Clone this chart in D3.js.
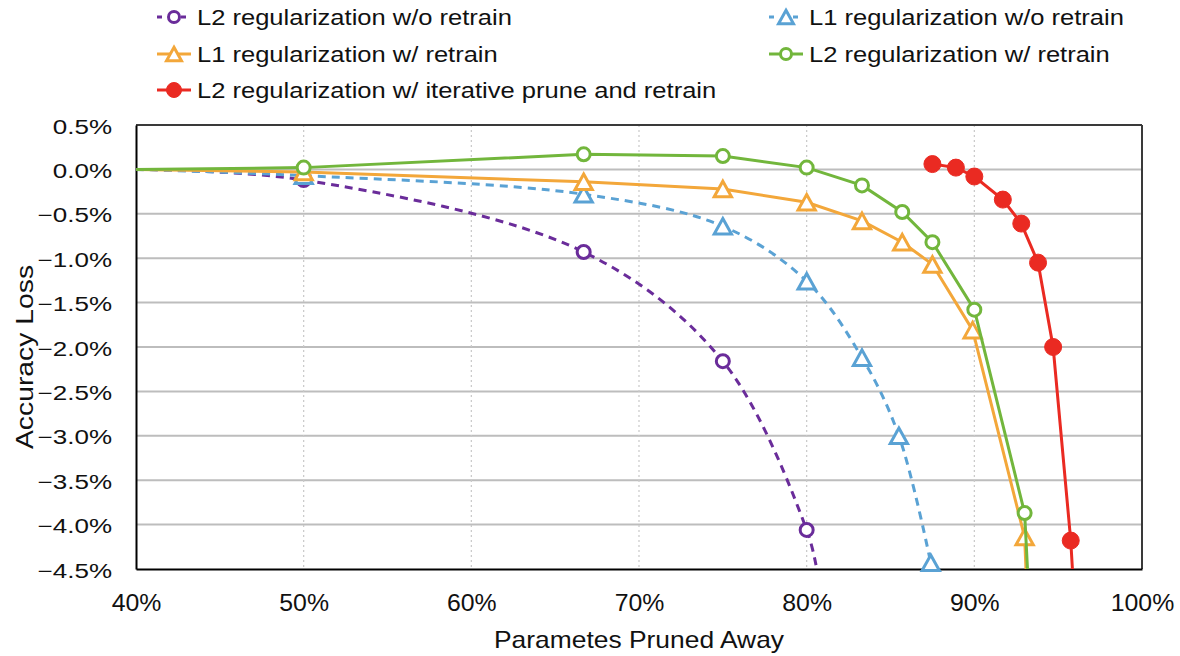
<!DOCTYPE html>
<html>
<head>
<meta charset="utf-8">
<script src="https://cdn.jsdelivr.net/npm/d3@7"></script>
<style>
  html, body { margin: 0; padding: 0; background: #fff; }
  svg { display: block; font-family: "Liberation Sans", Arial, Helvetica, sans-serif; }
</style>
</head>
<body>
<div id="chart"></div>
<script>
// tick values
const xTicks = [40, 50, 60, 70, 80, 90, 100];
const yTicks = [0.5, 0, -0.5, -1, -1.5, -2, -2.5, -3, -3.5, -4, -4.5];

// series (x = % pruned, y = accuracy loss %)
const l2NoRetrainX = [40, 50, 66.7, 75, 80, 80.6];
const l2NoRetrainY = [0, -0.12, -0.93, -2.16, -4.06, -4.5];

const l1NoRetrainX = [40, 50, 66.7, 75, 80, 83.3, 85.5, 87.4];
const l1NoRetrainY = [0, -0.07, -0.28, -0.64, -1.26, -2.12, -3.0, -4.43];

const l1RetrainX = [40, 50, 66.7, 75, 80, 83.3, 85.7, 87.5, 89.9, 93.0, 93.08];
const l1RetrainY = [0, -0.03, -0.14, -0.22, -0.37, -0.58, -0.82, -1.07, -1.81, -4.14, -4.5];

const l2RetrainX = [40, 50, 66.7, 75, 80, 83.3, 85.7, 87.5, 90, 93.0, 93.17];
const l2RetrainY = [0, 0.02, 0.17, 0.15, 0.02, -0.18, -0.48, -0.82, -1.58, -3.87, -4.5];

const l2IterX = [87.5, 88.9, 90, 91.7, 92.8, 93.8, 94.7, 95.75, 95.85];
const l2IterY = [0.06, 0.02, -0.08, -0.34, -0.61, -1.05, -2.0, -4.18, -4.5];

const seriesNames = [
  "L2 regularization w/o retrain",
  "L1 regularization w/o retrain",
  "L1 regularization w/ retrain",
  "L2 regularization w/ retrain",
  "L2 regularization w/ iterative prune and retrain"
];

const W = 1180, H = 656;
const margin = { left: 136, right: 38, top: 125, bottom: 87 };

const series = [
  { name: seriesNames[0], xs: l2NoRetrainX, ys: l2NoRetrainY, color: "#6a2c9a", dash: "8,6", marker: "circle", fill: "#fff", smooth: true },
  { name: seriesNames[1], xs: l1NoRetrainX, ys: l1NoRetrainY, color: "#5aa2d4", dash: "8,6", marker: "triangle", fill: "#fff", smooth: true },
  { name: seriesNames[2], xs: l1RetrainX, ys: l1RetrainY, color: "#f3a73a", dash: null, marker: "triangle", fill: "#fff", smooth: false },
  { name: seriesNames[3], xs: l2RetrainX, ys: l2RetrainY, color: "#72b63c", dash: null, marker: "circle", fill: "#fff", smooth: false },
  { name: seriesNames[4], xs: l2IterX, ys: l2IterY, color: "#ea2a22", dash: null, marker: "dot", fill: "#ea2a22", smooth: false }
];

const svg = d3.select("#chart").append("svg")
  .attr("width", W)
  .attr("height", H);

const x = d3.scaleLinear().domain([40, 100]).range([margin.left, W - margin.right]);
const y = d3.scaleLinear().domain([-4.5, 0.5]).range([H - margin.bottom, margin.top]);

// stretch text horizontally, the source picture is a bit wide
function stretch(sel, k) {
  sel.each(function () {
    const w = this.getComputedTextLength();
    d3.select(this).attr("textLength", w * k).attr("lengthAdjust", "spacingAndGlyphs");
  });
}

// grid
svg.append("g")
  .selectAll("line")
  .data(yTicks.filter(d => d < 0.5 && d > -4.5))
  .join("line")
  .attr("x1", x(40)).attr("x2", x(100))
  .attr("y1", d => y(d)).attr("y2", d => y(d))
  .attr("stroke", "#bdbdbd")
  .attr("stroke-width", 2);

svg.append("g")
  .selectAll("line")
  .data(xTicks.filter(d => d > 40 && d < 100))
  .join("line")
  .attr("x1", d => x(d)).attr("x2", d => x(d))
  .attr("y1", y(0.5)).attr("y2", y(-4.5))
  .attr("stroke", "#c8c8c8")
  .attr("stroke-width", 1.2)
  .attr("stroke-dasharray", "2,3");

// frame
svg.append("line").attr("x1", x(40)).attr("x2", x(100)).attr("y1", y(0.5)).attr("y2", y(0.5))
  .attr("stroke", "#3a3a3a").attr("stroke-width", 2);
svg.append("line").attr("x1", x(100)).attr("x2", x(100)).attr("y1", y(0.5)).attr("y2", y(-4.5))
  .attr("stroke", "#3a3a3a").attr("stroke-width", 2);

// axes
const xAxis = svg.append("g")
  .attr("transform", `translate(0,${y(-4.5)})`)
  .call(d3.axisBottom(x).tickValues(xTicks).tickFormat(d => d + "%").tickSize(0).tickPadding(26));
xAxis.select(".domain").attr("stroke", "#000").attr("stroke-width", 2);
xAxis.selectAll("text").attr("font-size", 23).attr("fill", "#111").attr("font-family", null);
stretch(xAxis.selectAll("text"), 1.08);

const yAxis = svg.append("g")
  .attr("transform", `translate(${x(40)},0)`)
  .call(d3.axisLeft(y).tickValues(yTicks).tickFormat(d3.format(".1f")).tickSize(0).tickPadding(24));
yAxis.select(".domain").attr("stroke", "#000").attr("stroke-width", 2);
yAxis.selectAll("text")
  .text(d => d3.format(".1f")(d) + "%")
  .attr("font-size", 20).attr("fill", "#111").attr("font-family", null)
  .attr("dy", "0.4em");
stretch(yAxis.selectAll("text"), 1.3);

// axis titles
const xTitle = svg.append("text")
  .attr("x", (x(40) + x(100)) / 2)
  .attr("y", 648)
  .attr("text-anchor", "middle")
  .attr("font-size", 24)
  .attr("fill", "#111")
  .text("Parametes Pruned Away");
stretch(xTitle, 1.1);

const yTitle = svg.append("text")
  .attr("transform", `translate(33,${(y(0.5) + y(-4.5)) / 2 + 10}) rotate(-90)`)
  .attr("text-anchor", "middle")
  .attr("font-size", 24)
  .attr("fill", "#111")
  .text("Accuracy Loss");
stretch(yTitle, 1.18);

// lines
svg.append("clipPath").attr("id", "plot-clip")
  .append("rect")
  .attr("x", x(40)).attr("y", y(0.5))
  .attr("width", x(100) - x(40)).attr("height", y(-4.5) - y(0.5));

function drawMarker(g, type, cx, cy, color, fill, size) {
  if (type === "triangle") {
    const s = size * 1.15;
    const h = s * 0.9;
    g.append("path")
      .attr("d", `M${cx},${cy - h / 2}L${cx + s / 2},${cy + h / 2}L${cx - s / 2},${cy + h / 2}Z`)
      .attr("fill", fill).attr("stroke", color).attr("stroke-width", 3)
      .attr("stroke-linejoin", "miter");
  } else if (type === "dot") {
    g.append("circle").attr("cx", cx).attr("cy", cy).attr("r", size / 2 + 1)
      .attr("fill", fill).attr("stroke", color).attr("stroke-width", 1);
  } else {
    g.append("circle").attr("cx", cx).attr("cy", cy).attr("r", size / 2 - 1)
      .attr("fill", fill).attr("stroke", color).attr("stroke-width", 3);
  }
}

series.forEach(s => {
  const pts = s.xs.map((v, i) => [v, s.ys[i]]);
  const line = d3.line()
    .x(d => x(d[0]))
    .y(d => y(d[1]))
    .curve(s.smooth ? d3.curveCatmullRom : d3.curveLinear);
  const g = svg.append("g");
  g.append("path")
    .attr("d", line(pts))
    .attr("clip-path", "url(#plot-clip)")
    .attr("fill", "none")
    .attr("stroke", s.color)
    .attr("stroke-width", 3)
    .attr("stroke-dasharray", s.dash);
  pts.filter(d => d[0] > 40 && d[1] > -4.5).forEach(d => {
    drawMarker(g, s.marker, x(d[0]), y(d[1]), s.color, s.fill, 15);
  });
});

// legend
const legendPos = [
  { lx: 174, ly: 17 },
  { lx: 786, ly: 17 },
  { lx: 174, ly: 54 },
  { lx: 786, ly: 54 },
  { lx: 174, ly: 90 }
];
series.forEach((s, i) => {
  const p = legendPos[i];
  const g = svg.append("g");
  g.append("line")
    .attr("x1", p.lx - 17).attr("x2", p.lx + 17)
    .attr("y1", p.ly).attr("y2", p.ly)
    .attr("stroke", s.color).attr("stroke-width", 3)
    .attr("stroke-dasharray", s.dash ? "5,19" : null)
    .attr("stroke-dashoffset", s.dash ? 0 : null);
  drawMarker(g, s.marker, p.lx, p.ly, s.color, s.fill, 13);
  const t = g.append("text")
    .attr("x", p.lx + 23)
    .attr("y", p.ly + 8)
    .attr("font-size", 22)
    .attr("fill", "#111")
    .text(s.name);
  stretch(t, 1.16);
});
</script>
</body>
</html>
